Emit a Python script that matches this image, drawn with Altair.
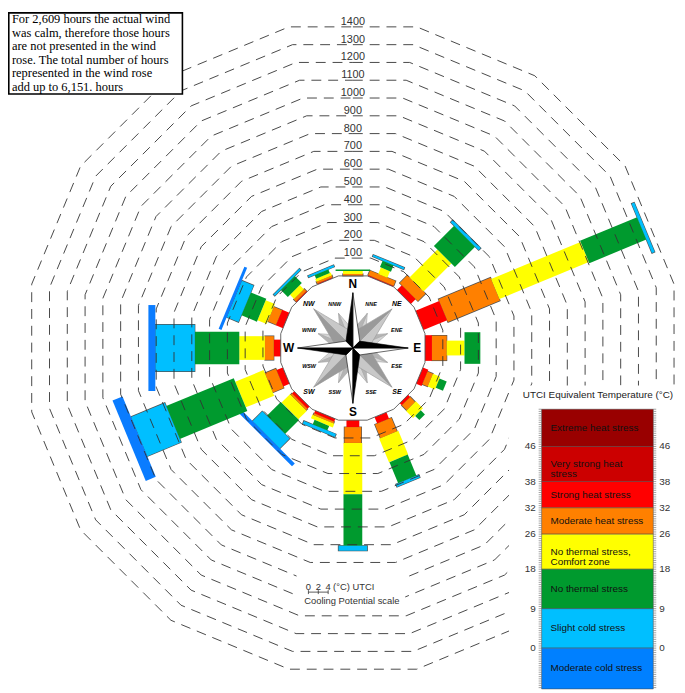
import math
import altair as alt
import pandas as pd

# ---------------- data ----------------
directions = ["N", "NNE", "NE", "ENE", "E", "ESE", "SE", "SSE",
              "S", "SSW", "SW", "WSW", "W", "WNW", "NW", "NNW"]
dir_angles = [0.0, 22.5, 45.0, 67.5, 90.0, 112.5, 135.0, 157.5,
              180.0, 202.5, 225.0, 247.5, 270.0, 292.5, 315.0, 337.5]

categories = ["Strong heat stress", "Moderate heat stress",
              "No thermal stress, Comfort zone", "No thermal stress",
              "Slight cold stress", "Moderate cold stress"]
cat_colors = ["#ff0000", "#ff8000", "#ffff00", "#009a2e", "#00bfff", "#0a7cff"]

# hours per direction and UTCI class (stacked from the calm circle outwards)
hours_strong   = [0, 6, 39, 144, 39, 33, 17, 39, 39, 17, 17, 39, 39, 44, 6, 6]
hours_moderate = [11, 28, 61, 317, 83, 33, 39, 83, 89, 11, 11, 67, 50, 50, 17, 11]
hours_comfort  = [17, 39, 222, 544, 100, 44, 56, 144, 289, 22, 67, 172, 144, 56, 33, 17]
hours_nostress = [8, 39, 161, 347, 89, 44, 33, 128, 289, 28, 111, 411, 250, 94, 56, 22]
hours_slight   = [0, 11, 17, 17, 0, 0, 0, 17, 28, 17, 78, 206, 222, 72, 11, 11]
hours_modcold  = [0, 0, 0, 0, 0, 0, 0, 0, 0, 0, 22, 61, 39, 17, 0, 0]

# UTCI cooling potential (deg C) -> bar thickness
cp_strong   = [0, 5.6, 4.0, 4.2, 5.2, 3.6, 2.4, 2.6, 2.6, 4.4, 4.4, 3.6, 3.4, 3.4, 3.0, 3.0]
cp_moderate = [4.0, 5.6, 5.2, 5.0, 5.0, 2.8, 2.4, 3.6, 3.4, 4.4, 4.4, 4.2, 4.8, 3.2, 3.0, 3.4]
cp_comfort  = [4.0, 2.0, 4.0, 4.4, 3.0, 2.8, 2.8, 4.2, 3.8, 4.8, 4.8, 5.6, 4.8, 4.4, 2.8, 3.4]
cp_nostress = [7.0, 2.4, 6.0, 4.9, 6.4, 2.0, 1.6, 4.0, 3.8, 3.2, 5.2, 7.2, 6.6, 5.0, 4.0, 3.0]
cp_slight   = [0, 6.8, 8.0, 10.8, 0, 0, 0, 5.0, 5.8, 7.0, 7.8, 8.6, 9.4, 8.0, 7.4, 5.6]
cp_modcold  = [0, 0, 0, 0, 0, 0, 0, 0, 0, 0, 16.4, 17.6, 17.4, 13.6, 0, 0]

ring_levels = [100, 200, 300, 400, 500, 600, 700, 800, 900, 1000, 1100, 1200, 1300, 1400]

legend_labels = ["Extreme heat stress", "Very strong heat\nstress", "Strong heat stress",
                 "Moderate heat stress", "No thermal stress,\nComfort zone",
                 "No thermal stress", "Slight cold stress", "Moderate cold stress"]
legend_colors = ["#990000", "#cc0000", "#ff0000", "#ff8000", "#ffff00",
                 "#009a2e", "#00bfff", "#0080ff"]
legend_low  = [46, 38, 32, 26, 18, 9, 0, -9.3]
legend_high = [54.5, 46, 38, 32, 26, 18, 9, 0]
legend_ticks = [46, 38, 32, 26, 18, 9, 0]

note_lines = ["For 2,609 hours the actual wind",
              "was calm, therefore those hours",
              "are not presented in the wind",
              "rose. The total number of hours",
              "represented in the wind rose",
              "add up to 6,151. hours"]

cp_ruler_values = [0, 2, 4]

# ---------------- layout / scales ----------------
W, H = 677, 685
PX_PER_HOUR = 0.18
R0 = 73 / PX_PER_HOUR          # calm circle radius, in hour units
CX, CY = 349, 340              # rose centre inside the plot area (px)
xs = alt.Scale(domain=[-CX / PX_PER_HOUR, (W - CX) / PX_PER_HOUR], nice=False, zero=False)
ys = alt.Scale(domain=[-(H - CY) / PX_PER_HOUR, CY / PX_PER_HOUR], nice=False, zero=False)
wscale = alt.Scale(domain=[0, 20], range=[0, 100])
FONT = "Liberation Sans"


def pol(r, deg):
    a = math.radians(deg)
    return r * math.sin(a), r * math.cos(a)


# bars
hour_series = [hours_strong, hours_moderate, hours_comfort, hours_nostress, hours_slight, hours_modcold]
cp_series = [cp_strong, cp_moderate, cp_comfort, cp_nostress, cp_slight, cp_modcold]
rows = []
for i, d in enumerate(directions):
    cum = 0
    for k in range(len(categories)):
        h = hour_series[k][i]
        if h <= 0:
            continue
        r1, r2 = R0 + cum, R0 + cum + h
        x1, y1 = pol(r1, dir_angles[i])
        x2, y2 = pol(r2, dir_angles[i])
        xo1, yo1 = pol(r1 - 3, dir_angles[i])
        xo2, yo2 = pol(r2 + 3, dir_angles[i])
        rows.append(dict(dir=d, cat=categories[k], color=cat_colors[k],
                         w=cp_series[k][i], wo=cp_series[k][i] + 0.28,
                         x=x1, y=y1, x2=x2, y2=y2, xo=xo1, yo=yo1, xo2=xo2, yo2=yo2,
                         outline=k in (1, 4)))
        cum += h
bars = pd.DataFrame(rows)

# rings (16-gons with a flat side facing each direction)
ring_rows = []
for lev in ring_levels + [0]:
    r = R0 + lev
    rv = r / math.cos(math.radians(11.25))
    pts = [pol(r, 0)] + [pol(rv, 11.25 + 22.5 * j) for j in range(16)] + [pol(r, 0)]
    for o, (x, y) in enumerate(pts):
        ring_rows.append(dict(level=lev, o=o, x=x, y=y))
rings = pd.DataFrame(ring_rows)

ring_lab = pd.DataFrame({"label": [str(v) for v in ring_levels],
                         "x": [0.0] * len(ring_levels),
                         "y": [R0 + v for v in ring_levels]})

enc_xy = dict(x=alt.X("x:Q", scale=xs, axis=None), y=alt.Y("y:Q", scale=ys, axis=None))

bar_outline = alt.Chart(bars[bars.outline]).mark_rule(color="#333333", opacity=0.85).encode(
    x=alt.X("xo:Q", scale=xs, axis=None), y=alt.Y("yo:Q", scale=ys, axis=None),
    x2="xo2:Q", y2="yo2:Q",
    strokeWidth=alt.StrokeWidth("wo:Q", scale=wscale, legend=None))

bar_fill = alt.Chart(bars).mark_rule().encode(
    **enc_xy, x2="x2:Q", y2="y2:Q",
    color=alt.Color("color:N", scale=None),
    strokeWidth=alt.StrokeWidth("w:Q", scale=wscale, legend=None))

ring_lines = alt.Chart(rings[rings.level > 0]).mark_line(
    color="#333333", strokeWidth=0.9, strokeDash=[10, 7]).encode(
    **enc_xy, detail="level:N", order="o:Q")

calm_line = alt.Chart(rings[rings.level == 0]).mark_line(
    color="#555555", strokeWidth=0.9).encode(**enc_xy, detail="level:N", order="o:Q")

ring_text = alt.Chart(ring_lab).mark_text(
    font=FONT, fontSize=11, color="#333333", baseline="alphabetic", dy=-2).encode(
    **enc_xy, text="label:N")

# ---------------- compass rose ----------------
card_dirs = [0, 90, 180, 270]
inter_dirs = [45, 135, 225, 315]
sec_dirs = [22.5, 67.5, 112.5, 157.5, 202.5, 247.5, 292.5, 337.5]


def star_layer(angles, length_px, b, fill, stroke, side):
    df = pd.DataFrame({"angle": angles, "x": [0.0] * len(angles), "y": [0.0] * len(angles)})
    path = f"M0,0L0,-1L{side * b},{-b}Z"
    return alt.Chart(df).mark_point(
        shape=path, filled=True, fill=fill, stroke=stroke, strokeWidth=0.6,
        size=(2 * length_px) ** 2, opacity=1).encode(
        **enc_xy, angle=alt.Angle("angle:Q", scale=None))


dotted = alt.Chart(pd.DataFrame({"x": [0.0], "y": [0.0]})).mark_point(
    shape="circle", size=44 ** 2, filled=False, stroke="#888888", strokeWidth=0.7,
    strokeDash=[1.5, 2], opacity=1).encode(**enc_xy)

compass = [
    dotted,
    star_layer(sec_dirs, 38, 0.25, "#d4d4d4", "#aaaaaa", 1),
    star_layer(sec_dirs, 38, 0.25, "#b4b4b4", "#aaaaaa", -1),
    star_layer(inter_dirs, 56, 0.2, "#c8c8c8", "#999999", 1),
    star_layer(inter_dirs, 56, 0.2, "#9a9a9a", "#999999", -1),
    star_layer(card_dirs, 56, 0.125, "#ffffff", "#000000", 1),
    star_layer(card_dirs, 56, 0.125, "#000000", "#000000", -1),
]


def label_df(names, angles, r_px):
    xy = [pol(r_px / PX_PER_HOUR, a) for a in angles]
    return pd.DataFrame({"label": names, "x": [p[0] for p in xy], "y": [p[1] for p in xy]})


card_lab = alt.Chart(label_df(["N", "E", "S", "W"], card_dirs, 65)).mark_text(
    font=FONT, fontSize=12, fontWeight="bold", color="#000000", baseline="middle").encode(
    **enc_xy, text="label:N")
inter_lab = alt.Chart(label_df(["NE", "SE", "SW", "NW"], inter_dirs, 63)).mark_text(
    font=FONT, fontSize=7, fontWeight="bold", fontStyle="italic", color="#000000",
    baseline="middle").encode(**enc_xy, text="label:N")
sec_lab = alt.Chart(label_df(["NNE", "ENE", "ESE", "SSE", "SSW", "WSW", "WNW", "NNW"],
                             sec_dirs, 48)).mark_text(
    font=FONT, fontSize=5.5, fontWeight="bold", fontStyle="italic", color="#000000",
    baseline="middle").encode(**enc_xy, text="label:N")

# ---------------- note box ----------------
one = pd.DataFrame({"a": [0]})
note_box = alt.Chart(one).mark_rect(fill="white", stroke="#000000", strokeWidth=1.6).encode(
    x=alt.value(0.8), x2=alt.value(176.5), y=alt.value(0.8), y2=alt.value(83))
note_text = alt.Chart(one).mark_text(
    font="Liberation Serif", fontSize=12.6, align="left", baseline="top",
    lineBreak="\n", lineHeight=13.6, color="#000000").encode(
    x=alt.value(4), y=alt.value(1.5), text=alt.value("\n".join(note_lines)))

rose = alt.layer(bar_outline, bar_fill, calm_line, ring_lines, ring_text,
                 *compass, card_lab, inter_lab, sec_lab, note_box, note_text)

# ---------------- legend (own scale in deg C) ----------------
ly = alt.Scale(domain=[-9.31, 145.1], nice=False, zero=False)
LX0, LX1 = 540, 653
leg = pd.DataFrame({"label": legend_labels, "color": legend_colors,
                    "lo": legend_low, "hi": legend_high})
leg["mid"] = (leg.lo + leg.hi) / 2

leg_bg = alt.Chart(one).mark_rect(fill="white").encode(
    x=alt.value(507), x2=alt.value(677), y=alt.value(378), y2=alt.value(685))
leg_rect = alt.Chart(leg).mark_rect(stroke="#444444", strokeWidth=0.5).encode(
    x=alt.value(LX0), x2=alt.value(LX1),
    y=alt.Y("lo:Q", scale=ly, axis=None), y2="hi:Q",
    color=alt.Color("color:N", scale=None))
leg_text = alt.Chart(leg).mark_text(
    font=FONT, fontSize=10, align="left", baseline="middle", lineBreak="\n",
    lineHeight=10, color="#111111").encode(
    x=alt.value(LX0 + 9), y=alt.Y("mid:Q", scale=ly, axis=None), text="label:N")

tick_df = pd.DataFrame({"t": legend_ticks, "label": [str(t) for t in legend_ticks]})
tick_left = alt.Chart(tick_df).mark_text(
    font=FONT, fontSize=10, align="right", baseline="middle", color="#333333").encode(
    x=alt.value(LX0 - 6), y=alt.Y("t:Q", scale=ly, axis=None), text="label:N")
tick_right = alt.Chart(tick_df).mark_text(
    font=FONT, fontSize=10, align="left", baseline="middle", color="#333333").encode(
    x=alt.value(LX1 + 6), y=alt.Y("t:Q", scale=ly, axis=None), text="label:N")

minor = pd.DataFrame({"t": [v / 2 for v in range(-18, 110)]})
minor_l = alt.Chart(minor).mark_rule(color="#666666", strokeWidth=0.6).encode(
    x=alt.value(LX0 - 3), x2=alt.value(LX0), y=alt.Y("t:Q", scale=ly, axis=None))
minor_r = alt.Chart(minor).mark_rule(color="#666666", strokeWidth=0.6).encode(
    x=alt.value(LX1), x2=alt.value(LX1 + 3), y=alt.Y("t:Q", scale=ly, axis=None))

leg_title = alt.Chart(one).mark_text(
    font=FONT, fontSize=10, align="center", baseline="middle", color="#222222").encode(
    x=alt.value(597), y=alt.value(388),
    text=alt.value("UTCI Equivalent Temperature (\u00b0C)"))

# cooling potential ruler (0-4 deg C at bar-thickness scale)
cp_bg = alt.Chart(one).mark_rect(fill="white").encode(
    x=alt.value(292), x2=alt.value(402), y=alt.value(568), y2=alt.value(604))
rx = alt.Scale(domain=[0, 10], range=[304, 354])
ruler_df = pd.DataFrame({"v": cp_ruler_values, "label": [str(v) for v in cp_ruler_values]})
ruler_line = alt.Chart(pd.DataFrame({"v": [0], "v2": [4]})).mark_rule(
    color="#333333", strokeWidth=0.8).encode(
    x=alt.X("v:Q", scale=rx, axis=None), x2="v2:Q", y=alt.value(587))
ruler_ticks = alt.Chart(ruler_df).mark_rule(color="#333333", strokeWidth=0.8).encode(
    x=alt.X("v:Q", scale=rx, axis=None), y=alt.value(585), y2=alt.value(589))
ruler_lab = alt.Chart(ruler_df).mark_text(
    font=FONT, fontSize=9.5, baseline="alphabetic", color="#333333").encode(
    x=alt.X("v:Q", scale=rx, axis=None), y=alt.value(585), text="label:N")
ruler_unit = alt.Chart(one).mark_text(
    font=FONT, fontSize=9.5, align="left", baseline="alphabetic", color="#333333").encode(
    x=alt.value(329), y=alt.value(585), text=alt.value("(\u00b0C) UTCI"))
ruler_title = alt.Chart(one).mark_text(
    font=FONT, fontSize=9.5, align="center", baseline="middle", color="#333333").encode(
    x=alt.value(348), y=alt.value(596), text=alt.value("Cooling Potential scale"))

legend = alt.layer(leg_bg, leg_rect, minor_l, minor_r, leg_text, tick_left, tick_right,
                   leg_title, cp_bg, ruler_line, ruler_ticks, ruler_lab, ruler_unit, ruler_title)

chart = alt.layer(rose, legend).resolve_scale(
    x="independent", y="independent", color="independent", strokeWidth="independent"
).properties(
    width=W, height=H, padding=0, autosize=alt.AutoSizeParams(type="none")
).configure_view(stroke=None)

chart.save("out.html", embed_options={"renderer": "svg", "actions": False})
